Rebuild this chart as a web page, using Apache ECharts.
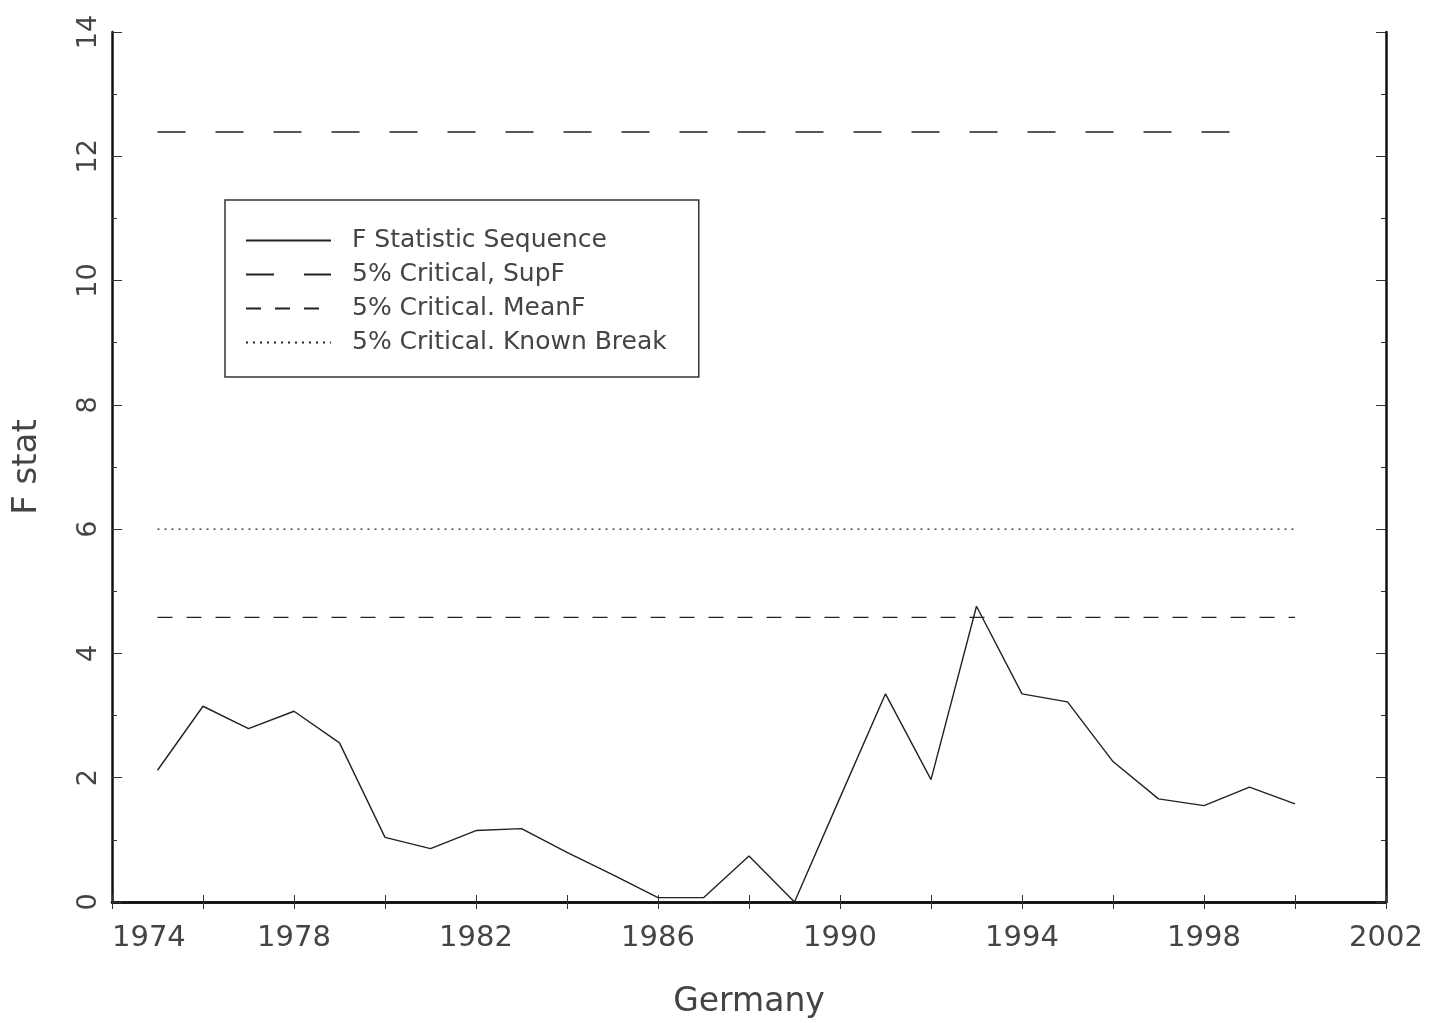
<!DOCTYPE html>
<html>
<head>
<meta charset="utf-8">
<title>F stat - Germany</title>
<script src="https://cdn.jsdelivr.net/npm/echarts@6/dist/echarts.min.js"></script>
<style>
  html, body { margin: 0; padding: 0; background: #fff; }
  #chart { width: 1441px; height: 1023px; }
</style>
</head>
<body>
<div id="chart"></div>
<script>
  // data
  const years = [1975, 1976, 1977, 1978, 1979, 1980, 1981, 1982, 1983, 1984, 1985, 1986, 1987,
    1988, 1989, 1990, 1991, 1992, 1993, 1994, 1995, 1996, 1997, 1998, 1999, 2000];
  const fStat = [2.12, 3.15, 2.79, 3.07, 2.56, 1.04, 0.86, 1.15, 1.18, 0.8, 0.44, 0.07, 0.07,
    0.74, 0.0, 1.68, 3.35, 1.97, 4.76, 3.35, 3.22, 2.26, 1.66, 1.55, 1.85, 1.58];
  const supFYears = [1975, 1999];
  const supF = [12.39, 12.39];
  const meanFYears = [1975, 2000];
  const meanF = [4.58, 4.58];
  const knownYears = [1975, 2000];
  const knownBreak = [6.0, 6.0];
  const seriesNames = ["F Statistic Sequence", "5% Critical, SupF", "5% Critical. MeanF", "5% Critical. Known Break"];

  const pairs = (xs, ys) => xs.map((x, i) => [x, ys[i]]);

  const font = "DejaVu Sans";
  const ink = "#222";

  const chart = echarts.init(document.getElementById("chart"));

  const frameLine = { show: true, lineStyle: { color: "#111", width: 2.5 } };

  const option = {
    animation: false,
    backgroundColor: "#fff",
    grid: { left: 112, right: 55, top: 32, bottom: 121, containLabel: false, outerBoundsMode: "none" },
    legend: {
      orient: "vertical",
      left: 225,
      top: 200,
      data: seriesNames,
      itemWidth: 85,
      itemHeight: 24,
      itemGap: 9,
      padding: [28, 32, 22, 20],
      borderColor: "#333",
      borderWidth: 1.5,
      itemStyle: { opacity: 0 },
      textStyle: {
        fontFamily: font,
        fontSize: 25,
        color: "#444",
        padding: [0, 0, 0, 16],
      },
    },
    xAxis: [
      {
        type: "value",
        min: 1974,
        max: 2002,
        interval: 2,
        name: "Germany",
        nameLocation: "middle",
        nameGap: 84,
        nameTextStyle: { fontFamily: font, fontSize: 33, color: "#444" },
        axisLine: frameLine,
        axisTick: { show: true, inside: true, length: 7, lineStyle: { color: "#333", width: 1 } },
        axisLabel: {
          margin: 22,
          fontFamily: font,
          fontSize: 29,
          color: "#444",
          alignMinLabel: "left",
          formatter: (v) => ((v - 1974) % 4 === 0 ? String(v) : ""),
        },
        splitLine: { show: false },
      },
      {
        type: "value",
        position: "top",
        min: 1974,
        max: 2002,
        interval: 2,
        axisLine: frameLine,
        axisTick: { show: true, inside: true, length: 7, lineStyle: { color: "#333", width: 1 } },
        axisLabel: { show: false },
        splitLine: { show: false },
      },
    ],
    yAxis: [
      {
        type: "value",
        min: 0,
        max: 14,
        interval: 2,
        name: "F stat",
        nameLocation: "middle",
        nameGap: 68,
        nameRotate: 90,
        nameTextStyle: { fontFamily: font, fontSize: 34, color: "#444" },
        axisLine: frameLine,
        axisTick: { show: true, inside: true, length: 10, lineStyle: { color: "#333", width: 1 } },
        minorTick: { show: true, splitNumber: 2, length: 5, lineStyle: { color: "#333", width: 1 } },
        axisLabel: {
          rotate: 90,
          margin: 10,
          fontFamily: font,
          fontSize: 27,
          color: "#444",
        },
        splitLine: { show: false },
      },
      {
        type: "value",
        position: "right",
        min: 0,
        max: 14,
        interval: 2,
        axisLine: frameLine,
        axisTick: { show: true, inside: true, length: 10, lineStyle: { color: "#333", width: 1 } },
        minorTick: { show: true, splitNumber: 2, length: 5, lineStyle: { color: "#333", width: 1 } },
        axisLabel: { show: false },
        splitLine: { show: false },
      },
    ],
    series: [
      {
        name: seriesNames[0],
        type: "line",
        data: pairs(years, fStat),
        symbol: "none",
        lineStyle: { color: ink, width: 1.4, type: "solid" },
        itemStyle: { color: ink },
      },
      {
        name: seriesNames[1],
        type: "line",
        data: pairs(supFYears, supF),
        symbol: "none",
        lineStyle: { color: ink, width: 1.5, type: [28, 30] },
        itemStyle: { color: ink },
      },
      {
        name: seriesNames[2],
        type: "line",
        data: pairs(meanFYears, meanF),
        symbol: "none",
        lineStyle: { color: ink, width: 1.4, type: [15, 14] },
        itemStyle: { color: ink },
      },
      {
        name: seriesNames[3],
        type: "line",
        data: pairs(knownYears, knownBreak),
        symbol: "none",
        lineStyle: { color: ink, width: 1.4, type: [2, 5] },
        itemStyle: { color: ink },
      },
    ],
  };

  chart.setOption(option);
</script>
</body>
</html>
